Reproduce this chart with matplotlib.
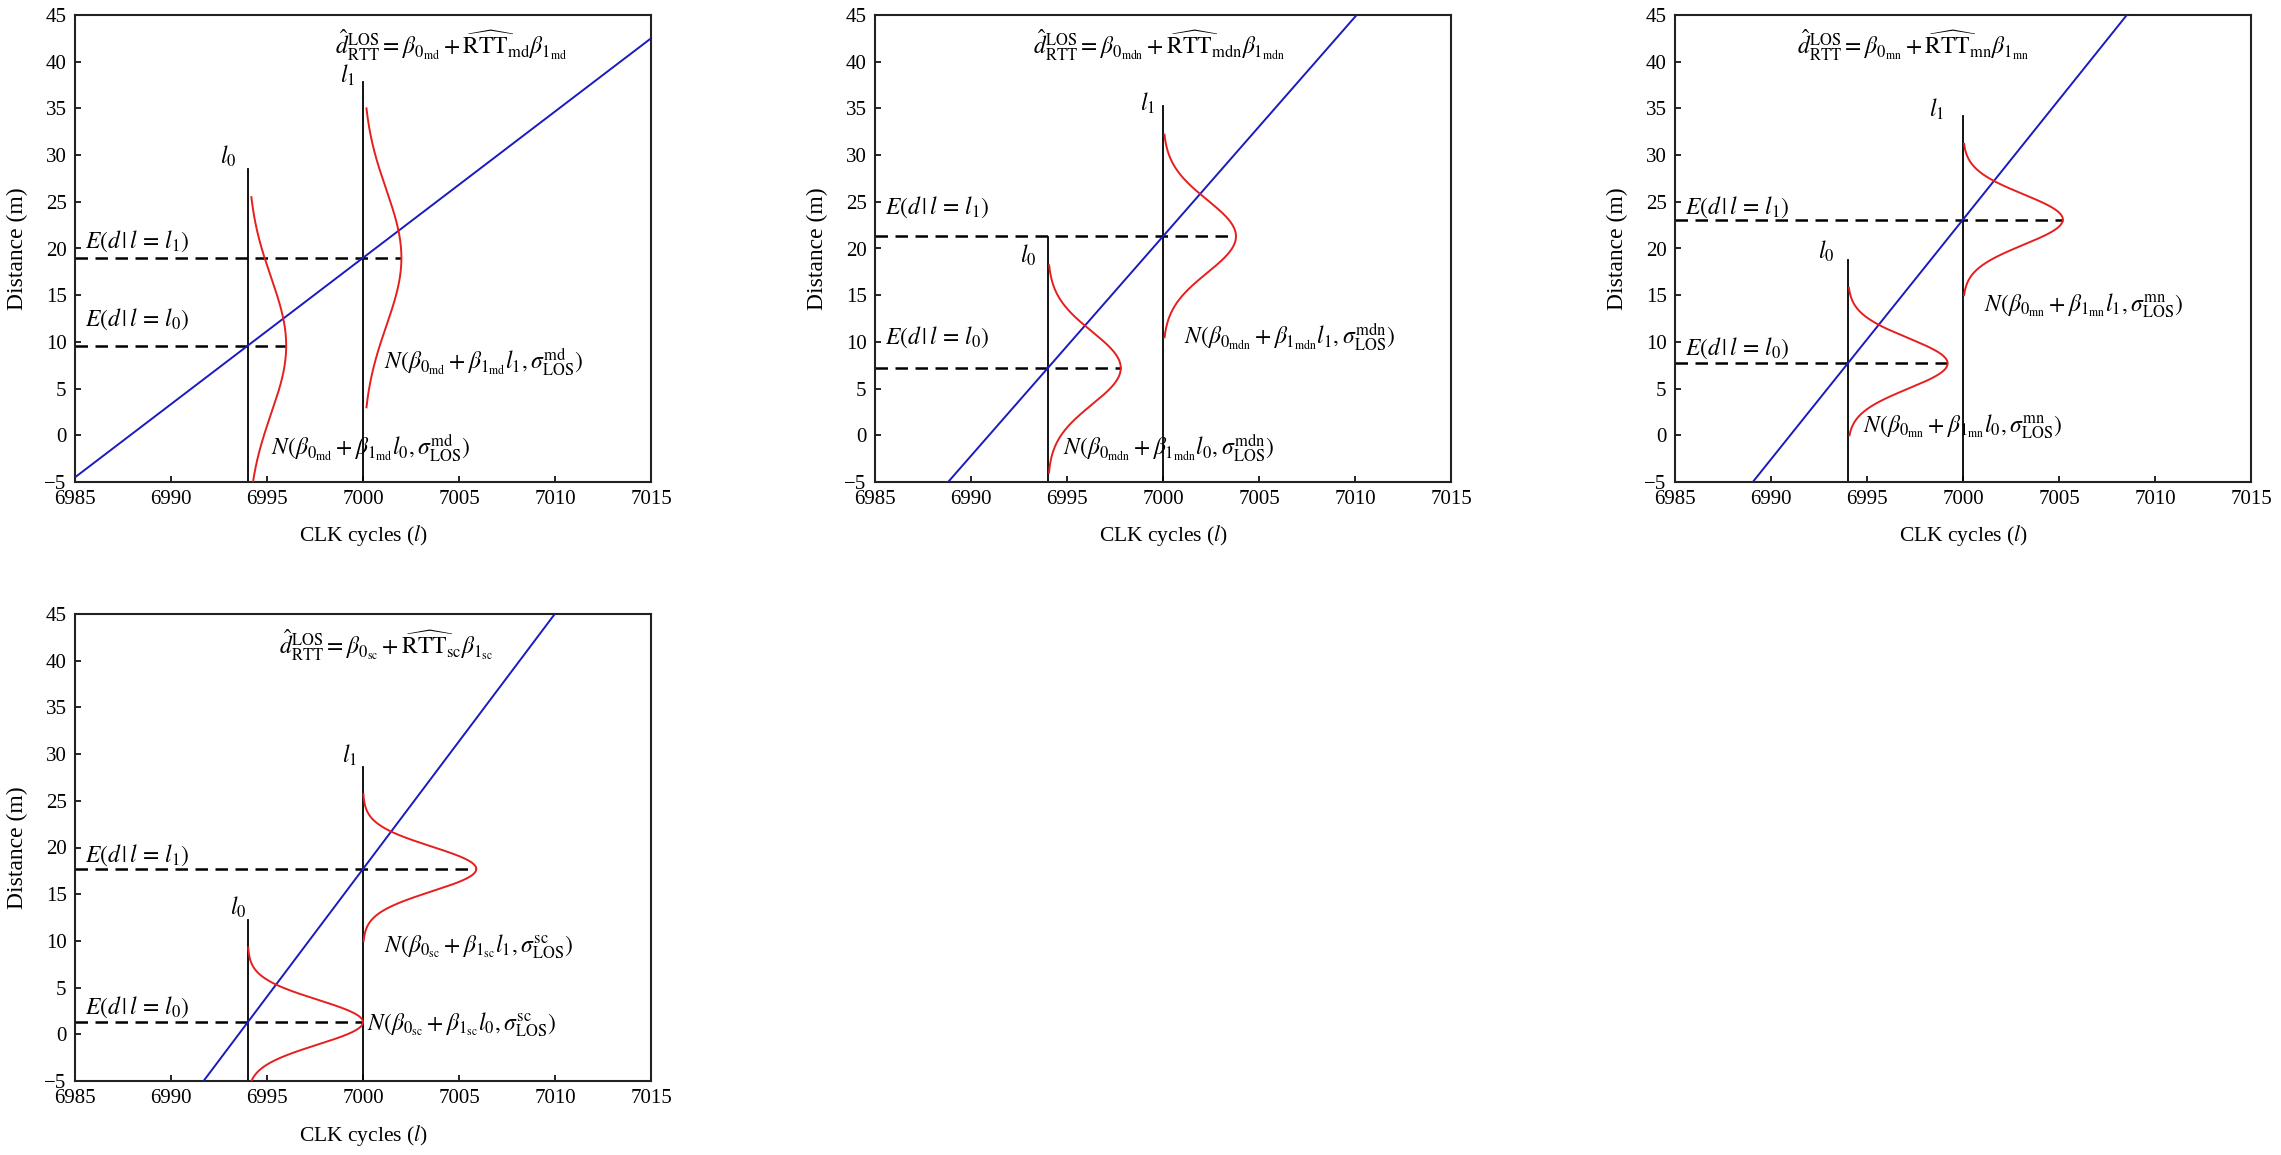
import numpy as np
import matplotlib
matplotlib.use("Agg")
import matplotlib.pyplot as plt

plt.rcParams['font.family'] = ['Liberation Serif', 'DejaVu Serif']
plt.rcParams['mathtext.fontset'] = 'stix'

# ---------------- data ----------------
methods = ["md", "mdn", "mn", "sc"]
l0 = 6994
l1 = 7000
# conditional expectations E(d|l=l0), E(d|l=l1) (dashed lines / fitted line points)
E0 = [9.6, 7.2, 7.7, 1.3]
E1 = [19.0, 21.3, 23.1, 17.7]
# height of the vertical l0 / l1 markers
l0_top = [28.5, 21.2, 18.8, 12.2]
l1_top = [37.8, 35.3, 34.2, 28.6]
# gaussian curves: peak width (cycles), sigma (m), visible range
peak0 = [2.0, 3.8, 5.2, 6.0]
peak1 = [2.0, 3.8, 5.2, 5.9]
sigma = [7.3, 3.9, 2.7, 2.4]
c0_lo = [-5.0, -4.0, 0.0, -5.0]
c0_hi = [25.5, 18.2, 15.8, 9.3]
c1_lo = [3.0, 10.5, 15.0, 10.0]
c1_hi = [35.0, 32.2, 31.2, 25.7]

xticks = [6985, 6990, 6995, 7000, 7005, 7010, 7015]
yticks = [-5, 0, 5, 10, 15, 20, 25, 30, 35, 40, 45]

# ---------------- layout / text positions ----------------
W, H = 2281, 1155
ax_px = [(75, 15), (875, 15), (1675, 15), (75, 614)]
ax_w, ax_h = 576, 467

eq_pos = [(7004.6, 41.8), (6999.8, 41.8), (6997.4, 41.8), (7001.2, 41.7)]
lab0_pos = [(6993.0, 29.9), (6993.0, 19.3), (6992.9, 19.7), (6993.5, 13.6)]
lab1_pos = [(6999.2, 38.5), (6999.2, 35.5), (6998.6, 34.9), (6999.3, 29.9)]
E1_lab_y = [20.8, 24.4, 24.4, 19.2]
E0_lab_y = [12.4, 10.5, 9.3, 2.9]
N1_pos = [(7001.1, 7.8), (7001.1, 10.5), (7001.1, 13.9), (7001.1, 9.4)]
N0_pos = [(6995.2, -1.4), (6994.8, -1.4), (6994.8, 0.9), (7000.2, 1.0)]

FS_TICK = 15
FS_XLAB = 15.5
FS_YLAB = 17
FS_ANN = 17
BLUE = '#1a1ac0'
RED = '#e61e1e'

fig = plt.figure(figsize=(W / 100, H / 100), dpi=100)

for i, m in enumerate(methods):
    x0, y0 = ax_px[i]
    ax = fig.add_axes([x0 / W, 1 - (y0 + ax_h) / H, ax_w / W, ax_h / H])
    ax.set_xlim(6985, 7015)
    ax.set_ylim(-5, 45)

    # fitted line through the two conditional expectations
    slope = (E1[i] - E0[i]) / (l1 - l0)
    xs = np.array([6985, 7015])
    ax.plot(xs, E0[i] + slope * (xs - l0), color=BLUE, lw=1.4, zorder=3)

    # vertical markers
    ax.plot([l0, l0], [-5, l0_top[i]], color='black', lw=1.3, zorder=2)
    ax.plot([l1, l1], [-5, l1_top[i]], color='black', lw=1.3, zorder=2)

    # gaussian densities
    yy0 = np.linspace(c0_lo[i], c0_hi[i], 300)
    ax.plot(l0 + peak0[i] * np.exp(-0.5 * ((yy0 - E0[i]) / sigma[i]) ** 2), yy0,
            color=RED, lw=1.4, zorder=4)
    yy1 = np.linspace(c1_lo[i], c1_hi[i], 300)
    ax.plot(l1 + peak1[i] * np.exp(-0.5 * ((yy1 - E1[i]) / sigma[i]) ** 2), yy1,
            color=RED, lw=1.4, zorder=4)

    # dashed expectation lines
    ax.plot([6985, l0 + peak0[i]], [E0[i], E0[i]], color='black', lw=1.8,
            ls=(0, (5, 3)), zorder=2)
    ax.plot([6985, l1 + peak1[i]], [E1[i], E1[i]], color='black', lw=1.8,
            ls=(0, (5, 3)), zorder=2)

    # texts
    eq = (r'$\hat{d}_{\mathrm{RTT}}^{\mathrm{LOS}} = \beta_{0_{\mathrm{%s}}} + '
          r'\widehat{\mathrm{RTT}}_{\mathrm{%s}}\beta_{1_{\mathrm{%s}}}$' % (m, m, m))
    ax.text(*eq_pos[i], eq, ha='center', va='center', fontsize=FS_ANN)
    ax.text(*lab0_pos[i], r'$l_0$', ha='center', va='center', fontsize=FS_ANN)
    ax.text(*lab1_pos[i], r'$l_1$', ha='center', va='center', fontsize=FS_ANN)
    ax.text(6985.5, E1_lab_y[i], r'$E(d\,|\,l\,=\,l_1)$', ha='left', va='center', fontsize=FS_ANN)
    ax.text(6985.5, E0_lab_y[i], r'$E(d\,|\,l\,=\,l_0)$', ha='left', va='center', fontsize=FS_ANN)
    ax.text(*N1_pos[i],
            r'$N(\beta_{0_{\mathrm{%s}}} + \beta_{1_{\mathrm{%s}}} l_1, \sigma_{\mathrm{LOS}}^{\mathrm{%s}})$' % (m, m, m),
            ha='left', va='center', fontsize=FS_ANN)
    ax.text(*N0_pos[i],
            r'$N(\beta_{0_{\mathrm{%s}}} + \beta_{1_{\mathrm{%s}}} l_0, \sigma_{\mathrm{LOS}}^{\mathrm{%s}})$' % (m, m, m),
            ha='left', va='center', fontsize=FS_ANN)

    # axes styling
    ax.set_xticks(xticks)
    ax.set_yticks(yticks)
    ax.set_yticklabels([('\u2212%d' % -t) if t < 0 else str(t) for t in yticks])
    ax.tick_params(direction='in', length=4, width=1.2, labelsize=FS_TICK,
                   top=False, right=False, pad=6)
    for s in ax.spines.values():
        s.set_linewidth(1.5)
        s.set_color('#222222')
    ax.set_xlabel(r'CLK cycles ($l$)', fontsize=FS_XLAB, va='center')
    ax.set_ylabel('Distance (m)', fontsize=FS_YLAB, va='center')
    ax.xaxis.set_label_coords(0.5, -54 / ax_h)
    ax.yaxis.set_label_coords(-58 / ax_w, 0.5)

fig.savefig('out.png', dpi=100)
